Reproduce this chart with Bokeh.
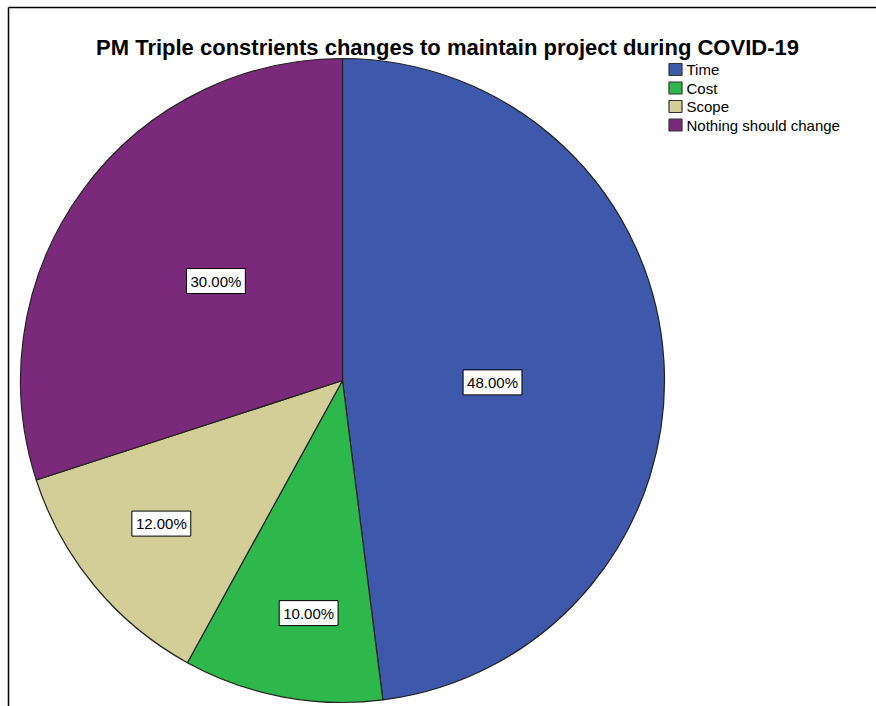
import numpy as np
from bokeh.plotting import figure
from bokeh.models import ColumnDataSource, Label
from bokeh.embed import file_html
from bokeh.resources import INLINE
from bokeh.core.properties import value

# --- data ---
categories = ["Time", "Cost", "Scope", "Nothing should change"]
percents = [48.0, 10.0, 12.0, 30.0]
colors = ["#3e58ac", "#2eb84b", "#d3ce97", "#7b2a7b"]
title_text = "PM Triple constrients changes to maintain project during COVID-19"

# --- layout ---
W, H = 876, 706
cx, cy, R = 342, H - 380, 322
FONT = "Liberation Sans"
# where each value box sits: radius as a fraction of R, and position along the slice's arc
label_radius = [0.466, 0.73, 0.717, 0.50]
label_arc_pos = [0.525, 0.43, 0.53, 0.52]

frac = np.array(percents) / sum(percents)
ends = np.cumsum(frac)
starts = ends - frac
start_angle = np.pi / 2 - 2 * np.pi * starts
end_angle = np.pi / 2 - 2 * np.pi * ends
lab_angle = start_angle + (end_angle - start_angle) * np.array(label_arc_pos)
rr = R * np.array(label_radius)

src = ColumnDataSource(dict(
    cat=categories, pct=percents, color=colors,
    start=start_angle, end=end_angle,
    lx=cx + rr * np.cos(lab_angle), ly=cy + rr * np.sin(lab_angle),
    txt=[f"{v:.2f}%" for v in percents],
))

p = figure(width=W, height=H, x_range=(0, W), y_range=(0, H),
           output_backend="svg", toolbar_location=None, min_border=0)
p.axis.visible = False
p.grid.visible = False
p.outline_line_color = None
p.background_fill_color = "white"

# frame lines (top and left)
p.segment(x0=[8, 8], y0=[H - 7, H - 7], x1=[W, 8], y1=[H - 7, 0],
          line_color="black", line_width=1.5)

# pie
p.wedge(x=cx, y=cy, radius=R, start_angle="start", end_angle="end",
        direction="clock", fill_color="color", line_color="#222222",
        line_width=1.2, source=src)

# value boxes
p.text(x="lx", y="ly", text="txt", source=src,
       text_align="center", text_baseline="middle",
       text_font=value(FONT), text_font_size="15px",
       text_color="black",
       background_fill_color="white",
       border_line_color="black", border_line_width=1,
       padding=4)

# title
p.add_layout(Label(x=447, y=H - 47, text=title_text, text_align="center",
                   text_baseline="alphabetic", text_font=FONT,
                   text_font_size="22px", text_font_style="bold",
                   text_color="black"))

# legend
n = len(categories)
leg = ColumnDataSource(dict(
    x=[675] * n,
    y=[H - (69 + 18.5 * i) for i in range(n)],
    tx=[686] * n,
    color=colors, cat=categories,
))
p.rect(x="x", y="y", width=13, height=12, width_units="screen",
       height_units="screen", fill_color="color", line_color="#333333",
       line_width=1.2, source=leg)
p.text(x="tx", y="y", text="cat", text_font=value(FONT),
       text_font_size="15px", text_baseline="middle", text_align="left",
       text_color="black", source=leg)

open("out.html", "w").write(file_html(p, INLINE))
